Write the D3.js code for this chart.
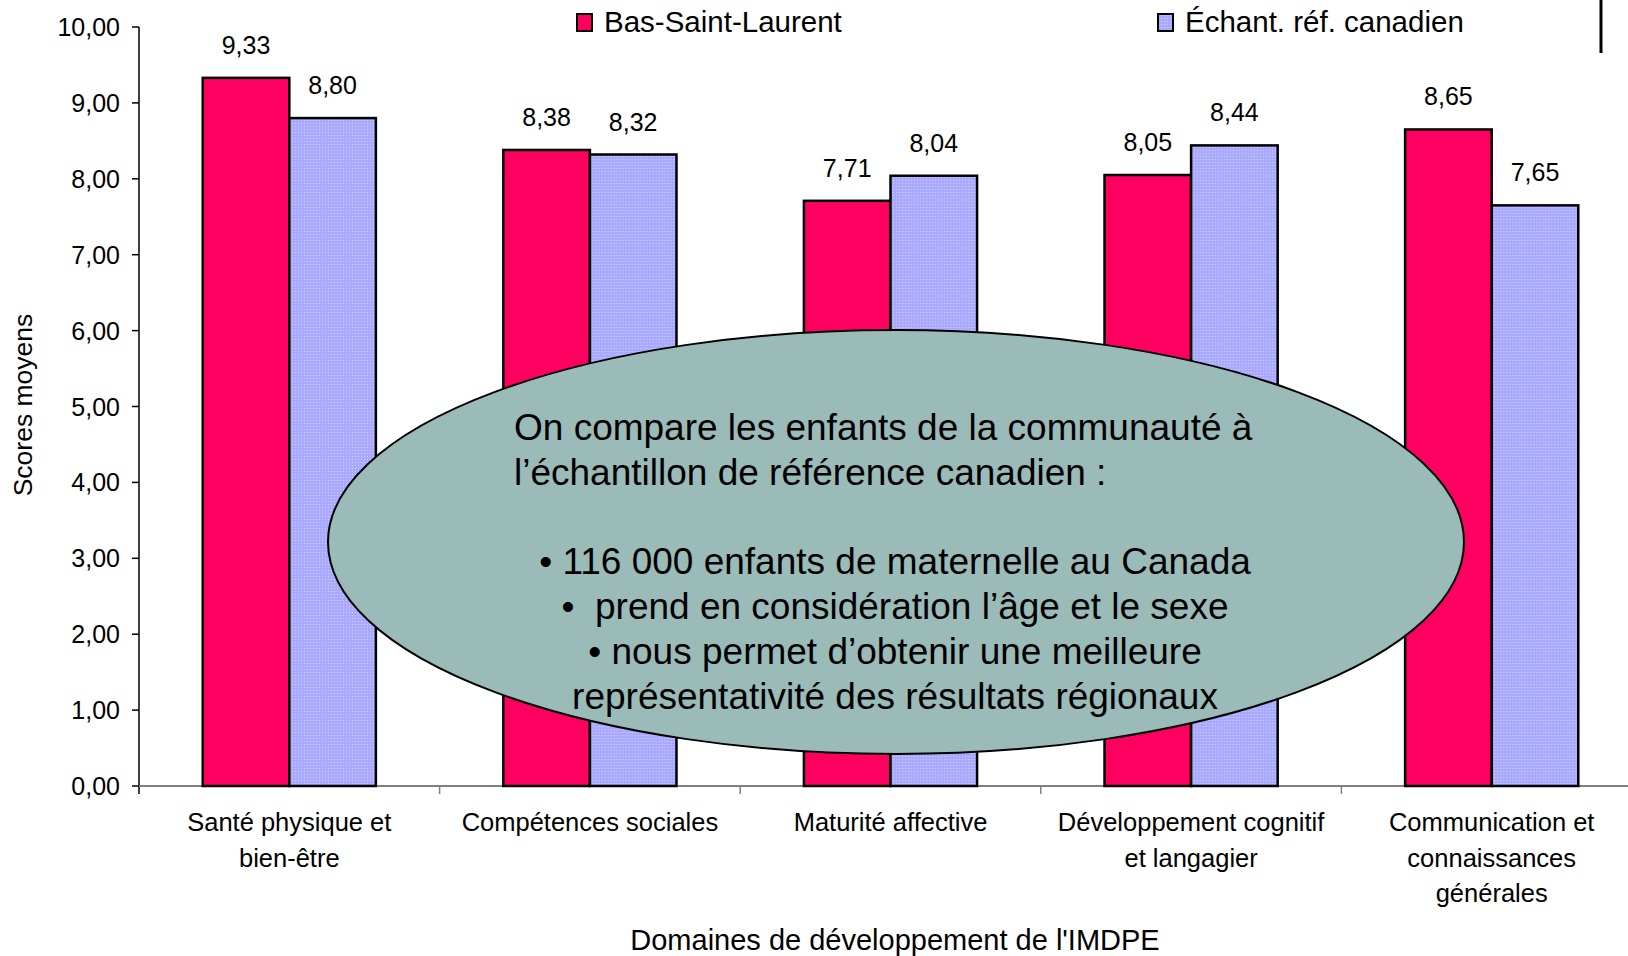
<!DOCTYPE html>
<html>
<head>
<meta charset="utf-8">
<script src="https://cdn.jsdelivr.net/npm/d3@7"></script>
<style>
  body { margin: 0; background: #fff; }
  svg { display: block; font-family: "Liberation Sans", Arial, sans-serif; }
</style>
</head>
<body>
<div id="chart"></div>
<script>
// data
const categories = ["Santé physique et bien-être", "Compétences sociales", "Maturité affective",
                    "Développement cognitif et langagier", "Communication et connaissances générales"];
const categoryLines = [["Santé physique et", "bien-être"], ["Compétences sociales"], ["Maturité affective"],
                       ["Développement cognitif", "et langagier"], ["Communication et", "connaissances", "générales"]];
const seriesNames = ["Bas-Saint-Laurent", "Échant. réf. canadien"];
const basStLaurent = [9.33, 8.38, 7.71, 8.05, 8.65];
const echantillon = [8.80, 8.32, 8.04, 8.44, 7.65];
const yTicks = [0, 1, 2, 3, 4, 5, 6, 7, 8, 9, 10];
const noteLines = ["On compare les enfants de la communauté à", "l’échantillon de référence canadien :"];
const noteBullets = ["• 116 000 enfants de maternelle au Canada", "•  prend en considération l’âge et le sexe",
                     "• nous permet d’obtenir une meilleure", "représentativité des résultats régionaux"];

const W = 1628, H = 956;
const fmt = v => v.toFixed(2).replace(".", ",");

const svg = d3.select("#chart").append("svg")
    .attr("width", W).attr("height", H);

const defs = svg.append("defs");
const pat = defs.append("pattern")
    .attr("id", "dots").attr("patternUnits", "userSpaceOnUse")
    .attr("width", 3).attr("height", 3);
pat.append("rect").attr("width", 3).attr("height", 3).attr("fill", "#a9a9ff");
pat.append("rect").attr("width", 1).attr("height", 1).attr("fill", "#d2d2ff");

const colors = ["#ff0060", "url(#dots)"];

const x0 = d3.scaleBand().domain(categories).range([139, 1642]).paddingInner(0).paddingOuter(0);
const x1 = d3.scaleBand().domain(seriesNames).range([0, x0.bandwidth()]).paddingInner(0).paddingOuter(0.736);
const y = d3.scaleLinear().domain([0, 10]).range([786, 27]);

const rows = categories.map((c, i) => ({ cat: c, vals: [basStLaurent[i], echantillon[i]] }));

// y axis
const yAxis = svg.append("g");
yAxis.append("line").attr("x1", 139).attr("x2", 139).attr("y1", y(10)).attr("y2", y(0) + 8)
    .attr("stroke", "#000").attr("stroke-width", 1.5);
yAxis.selectAll("line.tick").data(yTicks).join("line")
    .attr("class", "tick")
    .attr("x1", 132).attr("x2", 139)
    .attr("y1", d => y(d)).attr("y2", d => y(d))
    .attr("stroke", "#000").attr("stroke-width", 1.5);
yAxis.selectAll("text").data(yTicks).join("text")
    .attr("x", 120).attr("y", d => y(d))
    .attr("dy", "0.36em")
    .attr("text-anchor", "end")
    .style("font-size", "25px")
    .text(fmt);

// x axis
svg.append("line").attr("x1", 139).attr("x2", 1642).attr("y1", y(0)).attr("y2", y(0))
    .attr("stroke", "#808080").attr("stroke-width", 2);
svg.selectAll("line.xtick").data(categories.slice(1)).join("line")
    .attr("class", "xtick")
    .attr("x1", d => x0(d)).attr("x2", d => x0(d))
    .attr("y1", y(0)).attr("y2", y(0) + 8)
    .attr("stroke", "#808080").attr("stroke-width", 1.5);

// bars
const groups = svg.selectAll("g.grp").data(rows).join("g")
    .attr("class", "grp")
    .attr("transform", d => `translate(${x0(d.cat)},0)`);

groups.selectAll("rect").data(d => d.vals.map((v, i) => ({ s: seriesNames[i], v, i }))).join("rect")
    .attr("x", d => x1(d.s))
    .attr("y", d => y(d.v))
    .attr("width", x1.bandwidth())
    .attr("height", d => y(0) - y(d.v))
    .attr("fill", d => colors[d.i])
    .attr("stroke", "#000").attr("stroke-width", 2.5);

groups.selectAll("text").data(d => d.vals.map((v, i) => ({ s: seriesNames[i], v }))).join("text")
    .attr("x", d => x1(d.s) + x1.bandwidth() / 2)
    .attr("y", d => y(d.v) - 24)
    .attr("text-anchor", "middle")
    .style("font-size", "25px")
    .text(d => fmt(d.v));

// category labels
categories.forEach((c, i) => {
    const t = svg.append("text")
        .attr("x", x0(c) + x0.bandwidth() / 2)
        .attr("y", 831)
        .attr("text-anchor", "middle")
        .style("font-size", "25.5px");
    categoryLines[i].forEach((ln, j) => {
        t.append("tspan").attr("x", x0(c) + x0.bandwidth() / 2)
            .attr("dy", j === 0 ? 0 : 35.5).text(ln);
    });
});

// axis titles
svg.append("text")
    .attr("transform", "translate(32,405) rotate(-90)")
    .attr("text-anchor", "middle")
    .style("font-size", "26.5px")
    .text("Scores moyens");

svg.append("text")
    .attr("x", 895).attr("y", 950)
    .attr("text-anchor", "middle")
    .style("font-size", "29px")
    .text("Domaines de développement de l'IMDPE");

// legend
const legX = [577, 1158];
seriesNames.forEach((s, i) => {
    svg.append("rect").attr("x", legX[i]).attr("y", 14).attr("width", 15).attr("height", 17)
        .attr("fill", colors[i]).attr("stroke", "#000").attr("stroke-width", 2);
    svg.append("text").attr("x", legX[i] + 27).attr("y", 32)
        .style("font-size", "29.5px")
        .text(s);
});

// border mark top right
svg.append("line").attr("x1", 1601).attr("x2", 1601).attr("y1", 0).attr("y2", 53)
    .attr("stroke", "#000").attr("stroke-width", 3);

// callout ellipse
svg.append("ellipse")
    .attr("cx", 896).attr("cy", 542).attr("rx", 568).attr("ry", 212)
    .attr("fill", "#9bbbb9").attr("stroke", "#000").attr("stroke-width", 2);

noteLines.forEach((ln, i) => {
    svg.append("text").attr("x", 514).attr("y", 427 + i * 45).attr("dy", "0.36em")
        .style("font-size", "37px").text(ln);
});
noteBullets.forEach((ln, i) => {
    svg.append("text").attr("x", 895).attr("y", 561 + i * 45).attr("dy", "0.36em")
        .attr("text-anchor", "middle")
        .style("white-space", "pre")
        .style("font-size", "37px").text(ln);
});
</script>
</body>
</html>
